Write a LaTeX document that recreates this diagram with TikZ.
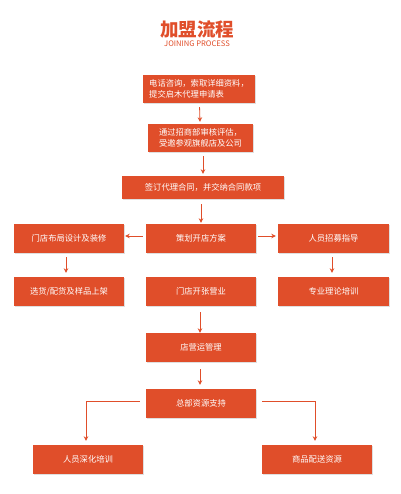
\documentclass[tikz,border=0pt]{standalone}
\usepackage{fontspec}
\setmainfont{Noto Sans CJK SC}
\usetikzlibrary{arrows.meta,shadows}
\definecolor{joinred}{HTML}{E04E2A}
\tikzset{
  stepbox/.style={fill=joinred, text=white, font=\fontsize{8.3}{11}\selectfont,
    minimum height=29pt, inner sep=0pt,
    drop shadow={shadow xshift=0.7pt, shadow yshift=-0.7pt, opacity=0.25}},
  flow/.style={draw=joinred, line width=0.8pt, -{Stealth[length=4.5pt,width=4.5pt]}},
}
\begin{document}
\begin{tikzpicture}[x=1pt,y=-1pt]
        \useasboundingbox (0,0) rectangle (400,494);
        % title
        \node[text=joinred, font=\fontsize{18.5}{20}\selectfont\bfseries] (title) at (197,29) {加盟流程};
        \node[text=joinred, font=\fontsize{7.6}{9}\selectfont] (subtitle) at (197,43.5) {JOINING PROCESS};
        % main steps
        \node[stepbox, minimum width=112pt, minimum height=28pt, align=left] (apply) at (199,89) {电话咨询，索取详细资料，\\提交启木代理申请表};
        \node[stepbox, minimum width=105pt, minimum height=28pt, align=left] (audit) at (200.5,138) {通过招商部审核评估，\\受邀参观旗舰店及公司};
        \node[stepbox, minimum width=162pt, minimum height=23pt] (contract) at (203,187.5) {签订代理合同，并交纳合同款项};
        \node[stepbox, minimum width=110pt] (layout) at (69,238.5) {门店布局设计及装修};
        \node[stepbox, minimum width=110pt] (plan) at (201,238.5) {策划开店方案};
        \node[stepbox, minimum width=111pt] (recruit) at (333.5,238.5) {人员招募指导};
        \node[stepbox, minimum width=110pt] (stock) at (69,291.5) {选货/配货及样品上架};
        \node[stepbox, minimum width=110pt] (open) at (201,291.5) {门店开张营业};
        \node[stepbox, minimum width=111pt] (theory) at (333.5,291.5) {专业理论培训};
        \node[stepbox, minimum width=110pt] (manage) at (201,347.5) {店营运管理};
        \node[stepbox, minimum width=110pt] (support) at (201,403.5) {总部资源支持};
        \node[stepbox, minimum width=110pt] (deep) at (88,459.5) {人员深化培训};
        \node[stepbox, minimum width=110pt] (goods) at (317,459.5) {商品配送资源};
        % connectors
        \draw[flow, shorten <=4pt, shorten >=2pt] (apply) -- (audit);
        \draw[flow, shorten <=4pt, shorten >=2pt] (audit.south -| contract) -- (contract);
        \draw[flow, shorten <=5pt, shorten >=1pt] (contract.south -| plan) -- (plan);
        \draw[flow, shorten <=3pt, shorten >=1pt] ([yshift=2.5pt]plan.west) -- ([yshift=2.5pt]layout.east);
        \draw[flow, shorten <=2pt, shorten >=2pt] ([yshift=2.5pt]plan.east) -- ([yshift=2.5pt]recruit.west);
        \draw[flow, shorten <=4pt, shorten >=4pt] ([xshift=-3pt]layout.south) -- ([xshift=-3pt]stock.north);
        \draw[flow, shorten <=4pt, shorten >=4pt] ([xshift=-1.5pt]recruit.south) -- ([xshift=-1.5pt]theory.north);
        \draw[flow, shorten <=6pt, shorten >=0pt] ([xshift=-1pt]open.south) -- ([xshift=-1pt]manage.north);
        \draw[flow, shorten <=7pt, shorten >=4pt] ([xshift=-1pt]manage.south) -- ([xshift=-1pt]support.north);
        \draw[flow, shorten <=6pt, shorten >=4pt] ([yshift=2.5pt]support.west) -| ([xshift=-2pt]deep.north);
        \draw[flow, shorten <=6pt, shorten >=4pt] ([yshift=2.5pt]support.east) -| ([xshift=-2pt]goods.north);
    \end{tikzpicture}
\end{document}
